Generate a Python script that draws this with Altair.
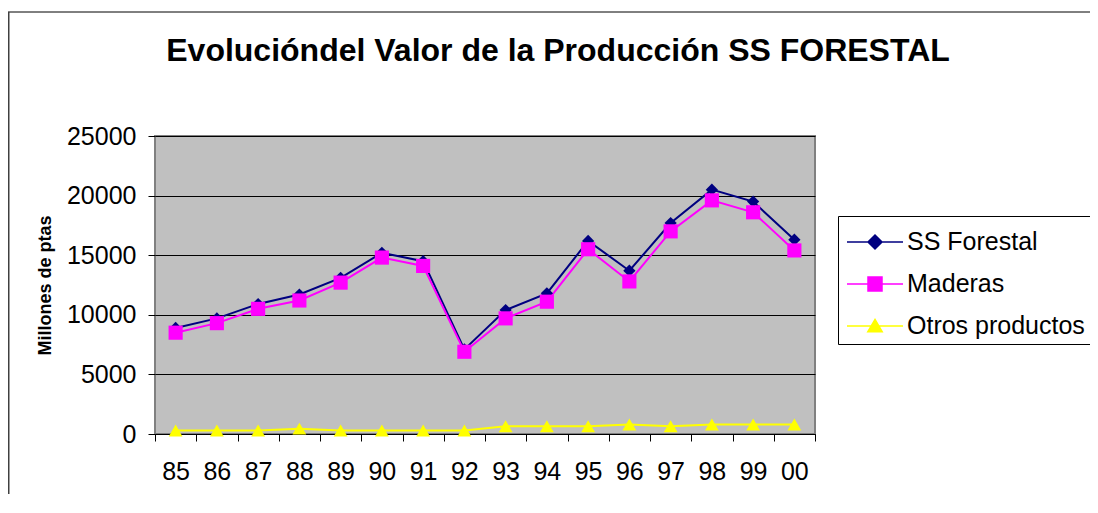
import altair as alt
import pandas as pd

years = ["85", "86", "87", "88", "89", "90", "91", "92",
         "93", "94", "95", "96", "97", "98", "99", "00"]
ss_forestal = [8900, 9700, 10900, 11700, 13100, 15200, 14500, 7100,
               10400, 11800, 16200, 13700, 17700, 20500, 19500, 16300]
maderas = [8500, 9300, 10500, 11200, 12700, 14800, 14100, 6900,
           9700, 11100, 15500, 12800, 17000, 19600, 18600, 15400]
otros = [300, 300, 300, 450, 300, 300, 300, 300,
         650, 650, 650, 800, 650, 800, 800, 800]

series = ["SS Forestal", "Maderas", "Otros productos"]
colors = ["#000080", "#FF00FF", "#FFFF00"]
shapes = ["diamond", "square", "triangle-up"]
sizes = [150, 200, 190]
y_ticks = [0, 5000, 10000, 15000, 20000, 25000]

rows = []
for s, vals in zip(series, [ss_forestal, maderas, otros]):
    for yr, v in zip(years, vals):
        rows.append({"year": yr, "series": s, "value": v})
df = pd.DataFrame(rows)

FONT = "Liberation Sans"

x_enc = alt.X(
    "year:N", sort=years, bandPosition=0.5,
    scale=alt.Scale(type="band", paddingInner=0, paddingOuter=0),
    axis=alt.Axis(title=None, labelAngle=0, tickBand="extent", tickSize=7,
                  labelPadding=18, labelFontSize=25, labelFont=FONT,
                  labelColor="black", domainColor="black", tickColor="black",
                  grid=False),
)
y_enc = alt.Y(
    "value:Q", scale=alt.Scale(domain=[0, 25000]),
    axis=alt.Axis(values=y_ticks, format="d", title="Millones de ptas",
                  titleFontSize=18, titleFont=FONT, titleFontWeight="bold",
                  titleColor="black", titlePadding=12,
                  labelFontSize=25, labelFont=FONT, labelColor="black",
                  tickSize=7, labelPadding=12,
                  domain=False, tickColor="black", grid=True, gridColor="black",
                  gridWidth=1),
)

paths = {
    "SS Forestal": "M-1.4,0H1.4M0,-0.35L0.35,0L0,0.35L-0.35,0Z",
    "Maderas": "M-1.4,0H1.4M-0.35,-0.35H0.35V0.35H-0.35Z",
    "Otros productos": "M-1.4,0H1.4M0,-0.33L0.36,0.29L-0.36,0.29Z",
}
shape_expr = ("datum.value === 'SS Forestal' ? '%s' : datum.value === 'Maderas' ? '%s' : '%s'"
              % (paths["SS Forestal"], paths["Maderas"], paths["Otros productos"]))
color_expr = "scale('color', datum.value)"

lines = alt.Chart(df).mark_line(strokeWidth=2).encode(
    x=x_enc, y=y_enc,
    color=alt.Color(
        "series:N", sort=series,
        scale=alt.Scale(domain=series, range=colors),
        legend=alt.Legend(
            title=None, orient="none", legendX=683, legendY=80,
            fillColor="white", strokeColor="black", padding=5,
            labelFontSize=25, labelFont=FONT, labelColor="black",
            labelOffset=11, symbolOffset=11, labelLimit=400,
            symbolSize=1600, symbolStrokeWidth=1.5, rowPadding=8,
            symbolType={"expr": shape_expr},
            symbolFillColor={"expr": color_expr},
            symbolStrokeColor={"expr": color_expr},
        ),
    ),
    detail="series:N",
)

point_layers = []
for s, c, sh, sz in zip(series, colors, shapes, sizes):
    point_layers.append(
        alt.Chart(df).transform_filter(alt.datum.series == s)
        .mark_point(filled=True, shape=sh, size=sz, color=c, opacity=1)
        .encode(x=x_enc, y=y_enc)
    )

frame_df = pd.DataFrame({"k": [0]})
frame_top = alt.Chart(frame_df).mark_rule(color="black", strokeWidth=1).encode(
    x=alt.value(-147), x2=alt.value(960), y=alt.value(-124))
frame_left = alt.Chart(frame_df).mark_rule(color="#404040", strokeWidth=2).encode(
    x=alt.value(-146.5), y=alt.value(-124), y2=alt.value(380))

chart = alt.layer(lines, *point_layers, frame_top, frame_left).properties(
    width=660, height=298,
    background="white",
    autosize=alt.AutoSizeParams(type="none"),
    padding={"left": 147, "top": 128, "right": 275, "bottom": 60},
    title=alt.TitleParams(
        text="Evolucióndel Valor de la Producción SS FORESTAL",
        font=FONT, fontSize=32, fontWeight="bold", color="black",
        anchor="middle", frame="group", dx=73, baseline="alphabetic",
        offset=-82,
    ),
).configure_view(
    fill="#C0C0C0", stroke="#808080", strokeWidth=2
)

chart.save("out.html", embed_options={"renderer": "svg", "actions": False})
